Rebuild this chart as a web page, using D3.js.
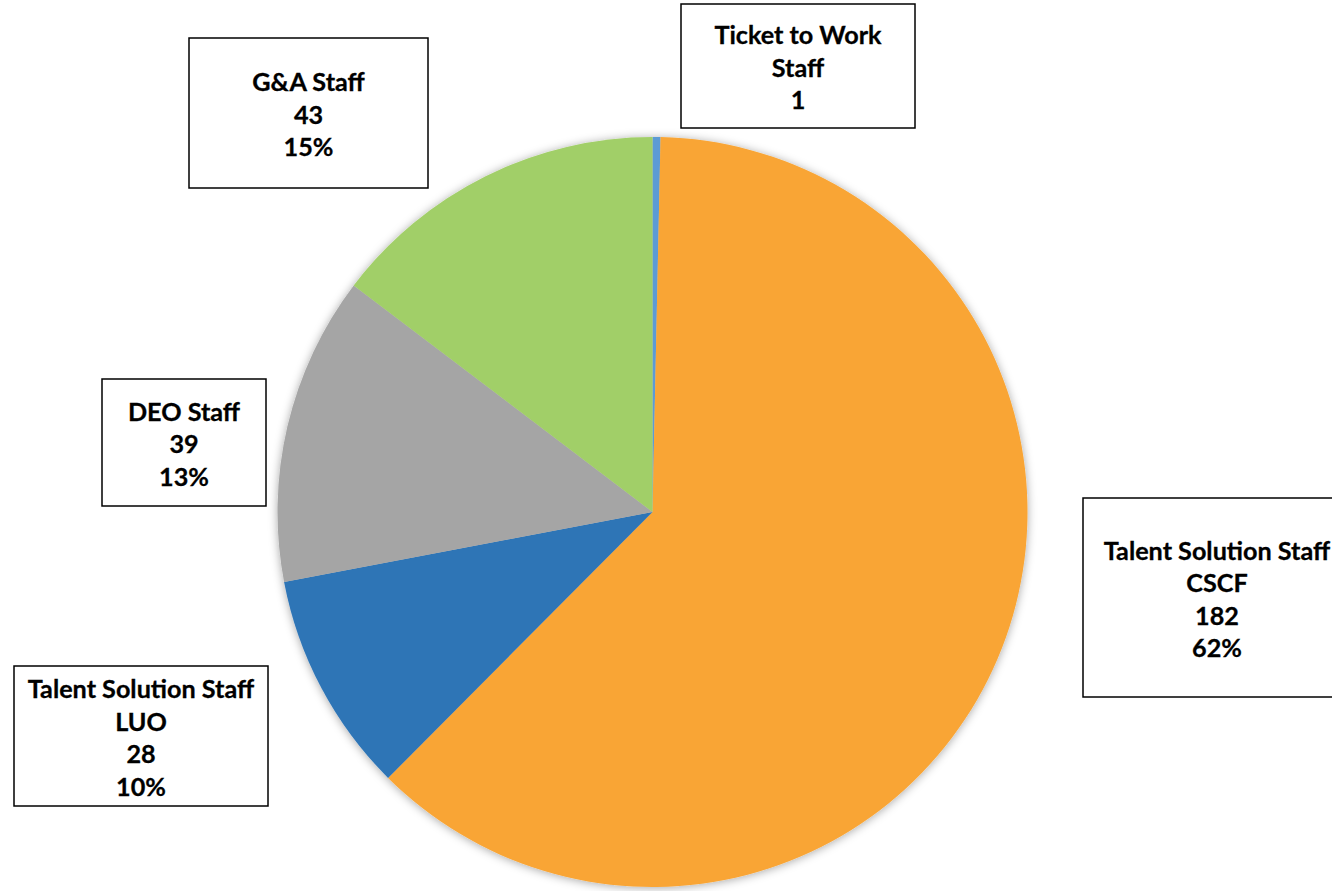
<!DOCTYPE html>
<html>
<head>
<meta charset="utf-8">
<script src="https://cdn.jsdelivr.net/npm/d3@7"></script>
<style>
  html, body { margin: 0; padding: 0; background: #ffffff; overflow: hidden; }
  svg { display: block; }
  text { font-family: Lato, "Open Sans", sans-serif; font-weight: 700; fill: #000; }
</style>
</head>
<body>
<svg id="chart" width="1332" height="891"></svg>
<script>
// Staff headcount by group
const categories = ["Ticket to Work Staff", "Talent Solution Staff CSCF", "Talent Solution Staff LUO", "DEO Staff", "G&A Staff"];
const values = [1, 182, 28, 39, 43];
const labelLines = [
  ["Ticket to Work", "Staff"],
  ["Talent Solution Staff", "CSCF"],
  ["Talent Solution Staff", "LUO"],
  ["DEO Staff"],
  ["G&A Staff"]
];
const showPercent = [false, true, true, true, true];
const colors = ["#5b9bd5", "#f9a535", "#2e75b6", "#a5a5a5", "#a1cf67"];

// Label box placement (x, y, width, height)
const boxes = [
  [681, 4, 234, 124],
  [1083, 498, 272, 199],
  [14, 666, 254, 140],
  [102, 379, 164, 127],
  [189, 38, 239, 150]
];

const svg = d3.select("#chart");
const cx = 652.5, cy = 512, radius = 375;

const defs = svg.append("defs");
const f = defs.append("filter").attr("id", "soft").attr("x", "-10%").attr("y", "-10%").attr("width", "120%").attr("height", "120%");
f.append("feDropShadow").attr("dx", 0).attr("dy", 1).attr("stdDeviation", 5).attr("flood-color", "#000").attr("flood-opacity", 0.35);

const total = d3.sum(values);
const pie = d3.pie().sort(null).value(d => d)(values);
const arc = d3.arc().innerRadius(0).outerRadius(radius);

const g = svg.append("g").attr("transform", `translate(${cx},${cy})`).attr("filter", "url(#soft)");
g.selectAll("path")
  .data(pie)
  .join("path")
  .attr("d", arc)
  .attr("fill", (d, i) => colors[i]);

const fmtPct = v => Math.round(v / total * 100) + "%";
const lineH = 32.5;

boxes.forEach((b, i) => {
  const [x, y, w, h] = b;
  const lab = svg.append("g");
  lab.append("rect")
    .attr("x", x).attr("y", y).attr("width", w).attr("height", h)
    .attr("fill", "#fff").attr("stroke", "#000").attr("stroke-width", 1.5);
  const lines = labelLines[i].concat([String(values[i])]);
  if (showPercent[i]) lines.push(fmtPct(values[i]));
  const tx = i === 1 ? 1217 : x + w / 2;
  const mid = y + h / 2 + 2;
  const first = mid - (lines.length - 1) * lineH / 2;
  lines.forEach((t, k) => {
    lab.append("text")
      .attr("x", tx)
      .attr("y", first + k * lineH)
      .attr("dy", "0.35em")
      .attr("text-anchor", "middle")
      .attr("font-size", 25.2)
      .attr("stroke", "#000")
      .attr("stroke-width", 0.3)
      .text(t);
  });
});
</script>
</body>
</html>
